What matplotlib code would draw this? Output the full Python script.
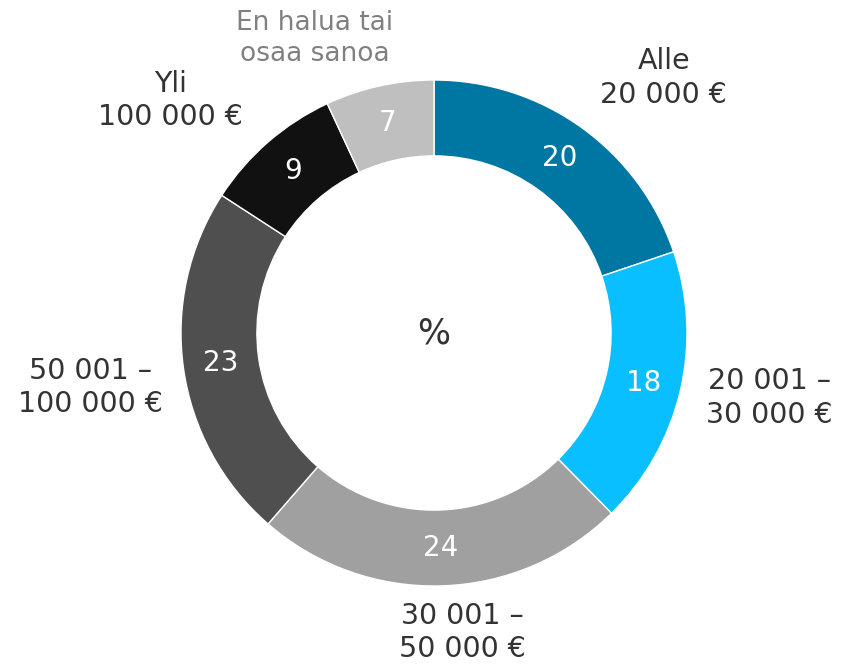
import numpy as np
from matplotlib import pyplot as plt

categories = ["Alle\n20 000 €", "20 001 –\n30 000 €", "30 001 –\n50 000 €",
              "50 001 –\n100 000 €", "Yli\n100 000 €",
              "En halua tai\nosaa sanoa"]
shares = [20, 18, 24, 23, 9, 7]
colors = ["#0077a3", "#0abfff", "#a0a0a0", "#4f4f4f", "#111111", "#bfbfbf"]

# label placement tweaks relative to each wedge's mid angle
label_shift = [-6.4, 2.4, 3.7, 1.0, 7.6, 9.5]
label_radius = [1.356, 1.35, 1.19, 1.375, 1.39, 1.257]
label_color = ["#333333"] * 5 + ["#808080"]
label_size = [20.5] * 5 + [19]

fig = plt.figure(figsize=(8.43, 6.68), dpi=100)
R = 253
ax = fig.add_axes([(434 - R) / 843, (335 - R) / 668, 2 * R / 843, 2 * R / 668])

wedges, _ = ax.pie(shares, colors=colors, startangle=90, counterclock=False,
                   radius=1.0,
                   wedgeprops=dict(width=0.3, edgecolor="white", linewidth=1))
ax.set_xlim(-1, 1)
ax.set_ylim(-1, 1)
ax.set_aspect("equal")
ax.axis("off")

for i, w in enumerate(wedges):
    mid = np.deg2rad((w.theta1 + w.theta2) / 2)
    ax.text(0.85 * np.cos(mid), 0.85 * np.sin(mid), str(shares[i]),
            ha="center", va="center", color="white", fontsize=20)
    ang = mid + np.deg2rad(label_shift[i])
    r = label_radius[i]
    ax.text(r * np.cos(ang), r * np.sin(ang), categories[i],
            ha="center", va="center", color=label_color[i],
            fontsize=label_size[i], linespacing=1.25, clip_on=False)

ax.text(0, 0, "%", ha="center", va="center", color="#333333", fontsize=25)

fig.savefig("out.png", dpi=100)
